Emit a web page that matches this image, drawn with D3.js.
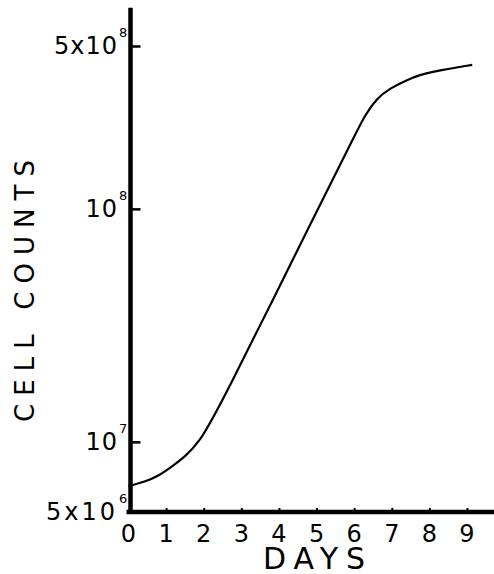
<!DOCTYPE html>
<html>
<head>
<meta charset="utf-8">
<script src="https://cdn.jsdelivr.net/npm/d3@7"></script>
<style>
  html, body { margin: 0; padding: 0; background: #fff; }
  svg { display: block; }
  text { font-family: "DejaVu Sans", sans-serif; fill: #000; }
</style>
</head>
<body>
<svg id="chart" width="494" height="574"></svg>
<script>
// ---- data ----
const days   = [0, 0.44, 0.79, 1.15, 1.5, 1.86, 2.39, 5.1, 6.02, 6.29, 6.6, 6.95, 7.4, 7.71, 8.28, 9.14];
const counts = [6.45e6, 6.75e6, 7.13e6, 7.82e6, 8.64e6, 9.86e6, 1.37e7, 1.05e8, 2.07e8, 2.53e8, 2.98e8, 3.29e8, 3.57e8, 3.75e8, 3.94e8, 4.15e8];

const xTickValues = [0, 1, 2, 3, 4, 5, 6, 7, 8, 9];
const xTickLabels = ["0", "1", "2", "3", "4", "5", "6", "7", "8", "9"];
const yTickValues = [5e6, 1e7, 1e8, 5e8];
const yTickMain   = ["5x10", "10", "10", "5x10"];
const yTickExp    = ["6", "7", "8", "8"];
const xTitle = "DAYS";
const yTitle = "CELL COUNTS";

// ---- scales ----
const svg = d3.select("#chart");
const x = d3.scaleLinear().domain([0, 9]).range([128.5, 467]);
const y = d3.scaleLog().domain([5e6, 5e8]).range([512, 46]);

const axisX0 = x(0) + 2;

// ---- y axis ----
const yAxis = d3.axisRight(y).tickValues(yTickValues.slice(1)).tickSize(10).tickFormat("");
const gy = svg.append("g").attr("transform", `translate(${axisX0},0)`).call(yAxis);
gy.select(".domain").remove();
gy.selectAll(".tick line").attr("stroke", "#000").attr("stroke-width", 2.5);
svg.append("line")
  .attr("x1", axisX0).attr("x2", axisX0)
  .attr("y1", y(7.3e8)).attr("y2", y(5e6) + 2)
  .attr("stroke", "#000").attr("stroke-width", 4.5);

// ---- x axis ----
const xAxis = d3.axisTop(x).tickValues(xTickValues.slice(1)).tickSize(4).tickFormat("");
const gx = svg.append("g").attr("transform", `translate(0,${y(5e6)})`).call(xAxis);
gx.select(".domain").remove();
gx.selectAll(".tick line").attr("stroke", "#000").attr("stroke-width", 2);
svg.append("line")
  .attr("x1", x(0) - 2).attr("x2", x(9.75))
  .attr("y1", y(5e6)).attr("y2", y(5e6))
  .attr("stroke", "#000").attr("stroke-width", 4.5);

// ---- x tick labels ----
svg.append("g").selectAll("text")
  .data(xTickValues)
  .join("text")
  .attr("x", (d) => x(d))
  .attr("y", y(5e6) + 30)
  .attr("text-anchor", "middle")
  .attr("font-size", 24)
  .text((d, i) => xTickLabels[i]);

// ---- y tick labels ----
const yl = svg.append("g");
yTickValues.forEach((v, i) => {
  yl.append("text")
    .attr("x", 118)
    .attr("y", y(v) + 8)
    .attr("text-anchor", "end")
    .attr("font-size", 24)
    .attr("letter-spacing", i === 0 ? 3 : 1)
    .text(yTickMain[i]);
  yl.append("text")
    .attr("x", 119)
    .attr("y", y(v) - 9)
    .attr("font-size", 13)
    .text(yTickExp[i]);
});

// ---- curve ----
const line = d3.line()
  .x((d, i) => x(days[i]))
  .y((d) => y(d))
  .curve(d3.curveBasis);
svg.append("path")
  .datum(counts)
  .attr("d", line)
  .attr("fill", "none")
  .attr("stroke", "#000")
  .attr("stroke-width", 2.2);

// ---- titles ----
svg.append("text")
  .attr("x", 263).attr("y", 569)
  .attr("font-size", 30)
  .attr("textLength", 102)
  .attr("lengthAdjust", "spacing")
  .text(xTitle);

svg.append("text")
  .attr("transform", "translate(34,422) rotate(-90)")
  .attr("font-size", 26)
  .attr("textLength", 262)
  .attr("lengthAdjust", "spacing")
  .text(yTitle);
</script>
</body>
</html>
